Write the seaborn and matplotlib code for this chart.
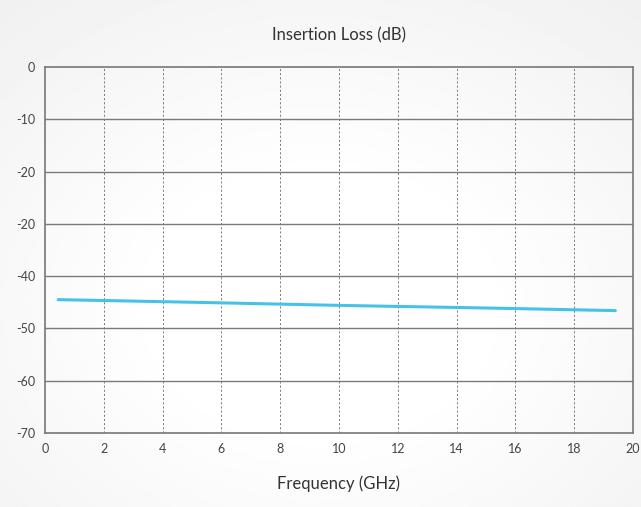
import matplotlib.pyplot as plt
import numpy as np
import pandas as pd
import seaborn as sns

# data
freq = [0.45, 5, 10, 15, 19.4]
loss = [-44.5, -45.0, -45.6, -46.1, -46.6]
x_ticks = [0, 2, 4, 6, 8, 10, 12, 14, 16, 18, 20]
y_ticks = [0, -10, -20, -30, -40, -50, -60, -70]
y_labels = ['0', '-10', '-20', '-20', '-40', '-50', '-60', '-70']

df = pd.DataFrame({'freq': freq, 'loss': loss})

sns.set_style('white')
plt.rcParams['font.family'] = ['Lato', 'DejaVu Sans']

fig = plt.figure(figsize=(6.41, 5.07), dpi=100)
fig.patch.set_facecolor('#f3f3f3')

# soft light background like the original
bg = fig.add_axes([0, 0, 1, 1], zorder=-10)
yy, xx = np.mgrid[0:1:200j, 0:1:200j]
r = np.sqrt((xx - 0.5) ** 2 + (yy - 0.6) ** 2)
bg.imshow(1 - 0.06 * np.clip((r - 0.25) / 0.55, 0, 1), cmap='gray', vmin=0, vmax=1,
          extent=[0, 1, 0, 1], aspect='auto')
bg.axis('off')

ax = fig.add_axes([0.0702, 0.146, 0.9173, 0.722])
ax.set_facecolor('none')
sns.lineplot(data=df, x='freq', y='loss', ax=ax, color='#45c3e6', linewidth=2.2)

ax.set_xlim(0, 20)
ax.set_ylim(-70, 0)
ax.set_xticks(x_ticks)
ax.set_yticks(y_ticks)
ax.set_yticklabels(y_labels)
ax.tick_params(length=0, labelsize=9, colors='#444444', pad=7)

for v in x_ticks[1:-1]:
    ax.axvline(v, color='#666666', linestyle=(0, (2.5, 2.5)), linewidth=0.6, zorder=0)
for v in y_ticks[1:-1]:
    ax.axhline(v, color='#7a7a7a', linewidth=1.0, zorder=0)

for s in ax.spines.values():
    s.set_color('#777777')
    s.set_linewidth(1.2)

ax.set_title('Insertion Loss (dB)', fontsize=12, color='#333333', pad=19)
ax.set_xlabel('Frequency (GHz)', fontsize=12, color='#333333', labelpad=15)
ax.set_ylabel('')

fig.savefig('out.png', dpi=100, facecolor=fig.get_facecolor())
